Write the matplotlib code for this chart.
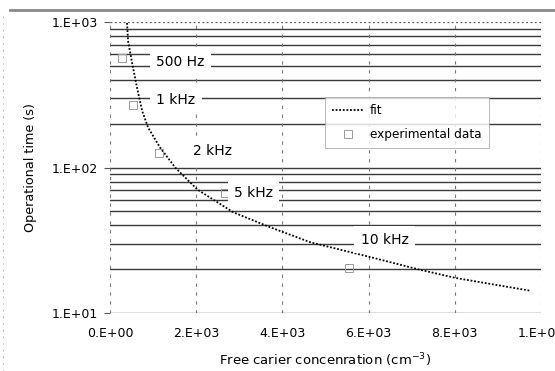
import matplotlib
matplotlib.use("Agg")
import matplotlib.pyplot as plt
from matplotlib.lines import Line2D
import numpy as np

plt.rcParams['font.family'] = ['DejaVu Sans']

# fit curve
fit_x = [395, 419, 512, 628, 744, 884, 1163, 1512, 2023, 2860, 3721, 4651, 6047, 7140, 8023, 9767]
fit_y = [985, 741, 524, 353, 246, 188, 137, 100, 70.7, 49.2, 38.8, 30.6, 24.2, 20.0, 17.4, 14.2]

# experimental data
exp_x = [278, 535, 1137, 2668, 5545]
exp_y = [566, 269, 126, 66.8, 20.4]

freq_labels = ["500 Hz", "1 kHz", "2 kHz", "5 kHz", "10 kHz"]
label_x = [1630, 1530, 2370, 3330, 6370]
label_y = [535, 290, 130, 67, 32]

xticks = [0, 2000, 4000, 6000, 8000, 10000]
xticklabels = ["0.E+00", "2.E+03", "4.E+03", "6.E+03", "8.E+03", "1.E+04"]
yticks = [10, 100, 1000]
yticklabels = ["1.E+01", "1.E+02", "1.E+03"]

fig = plt.figure(figsize=(5.55, 3.71), dpi=100)
ax = fig.add_axes([110/555, 1-313/371, (541-110)/555, (313-22)/371])
ax.set_yscale('log')
ax.set_xlim(0, 10000)
ax.set_ylim(10, 1000)

for s in ax.spines.values():
    s.set_visible(False)

# horizontal minor gridlines
for dec in [10, 100]:
    for m in range(2, 10):
        ax.axhline(dec*m, color='#3a3a3a', lw=1.0, zorder=1)
ax.axhline(100, color='#3a3a3a', lw=1.0, zorder=1)
ax.axhline(10, color='#555555', lw=1.0, zorder=1)
ax.axhline(1000, color='#555555', lw=0.9, ls=(0, (1.5, 2)), zorder=1)

# vertical gridlines
for xv in xticks:
    ax.axvline(xv, color='#777777', lw=0.8, ls=(0, (3, 5)), zorder=1)

ax.plot(fit_x, fit_y, color='black', lw=1.3, ls=(0, (1, 1)), zorder=3, label='fit')
ax.plot(exp_x, exp_y, ls='none', marker='s', ms=6, mfc='none', mec='#999999', mew=0.7,
        zorder=3, label='experimental data')

for t, lx, ly in zip(freq_labels, label_x, label_y):
    ax.text(lx, ly, t, fontsize=10, ha='center', va='center', zorder=4,
            bbox=dict(facecolor='white', edgecolor='none', pad=4.5))

ax.set_xticks(xticks)
ax.set_xticklabels(xticklabels, fontsize=9)
ax.set_yticks(yticks)
ax.set_yticklabels(yticklabels, fontsize=9)
ax.yaxis.set_minor_locator(matplotlib.ticker.NullLocator())
ax.tick_params(axis='x', length=0, pad=10)
ax.tick_params(axis='y', length=4, pad=5, color='#555555')

ax.set_xlabel("Free carier concenration (cm$^{-3}$)", fontsize=9.5, labelpad=8)
ax.set_ylabel("Operational time (s)", fontsize=9.2, labelpad=10)

leg = ax.legend(loc='upper left', bbox_to_anchor=((325-110)/431, 1-(97-22)/291),
                fontsize=8.7, frameon=True, fancybox=False, handlelength=2.6,
                handletextpad=0.5, borderpad=0.6, borderaxespad=0,
                labelspacing=0.9, markerscale=0.85)
leg.get_frame().set_edgecolor('#999999')
leg.get_frame().set_linewidth(0.6)
leg.set_zorder(5)

# scan border line at top
fig.add_artist(Line2D([10/555, 1], [1-10/371, 1-10/371], color='#888888', lw=2))
fig.add_artist(Line2D([3/555, 3/555], [0, 1-12/371], color='#aaaaaa', lw=0.6, ls=(0, (2, 6))))

fig.savefig("out.png", dpi=100)
